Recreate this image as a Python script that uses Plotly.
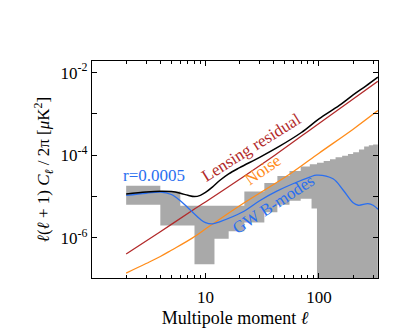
import numpy as np
import plotly.graph_objects as go

# multipole grid points where curves were read (values are log10 of l(l+1)C_l/2pi)
black_ell = [2, 3, 4, 5, 6, 7, 8, 9, 10, 11.5, 13.5, 16, 20, 30, 45, 70, 100, 150, 200, 260, 330]
black_log = [-4.94, -4.89, -4.87, -4.88, -4.92, -4.97, -5.0, -4.97, -4.9, -4.77, -4.6, -4.45,
             -4.3, -4.05, -3.78, -3.45, -3.12, -2.8, -2.54, -2.32, -2.11]

lens_ell = [2, 4, 7.7, 10, 20, 40.8, 100, 200, 330]
lens_log = [-6.39, -5.85, -5.33, -5.13, -4.58, -4.0, -3.23, -2.64, -2.21]

noise_ell = [2, 3, 4, 5, 7.7, 10.8, 20, 55, 100, 200, 330]
noise_log = [-6.85, -6.62, -6.45, -6.3, -6.0, -5.72, -5.22, -4.46, -3.95, -3.37, -2.92]

gw_ell = [2, 3, 4, 5, 6, 7, 8, 9, 10, 11.5, 13.3, 21, 30, 42.5, 59, 83, 95, 133, 163, 200,
          222, 270, 300, 332]
gw_log = [-4.97, -4.92, -4.89, -4.95, -5.1, -5.27, -5.42, -5.55, -5.63, -5.66, -5.61, -5.38,
          -5.1, -4.87, -4.69, -4.53, -4.48, -4.57, -4.84, -5.15, -5.21, -5.17, -5.21, -5.31]

# bandpower error boxes: bin edges, upper and lower bounds (log10)
bin_edges = [2, 4, 6, 8, 12, 16, 22, 33, 43, 55, 69, 83, 86, 96, 110, 125, 140, 160, 180,
             200, 225, 250, 275, 300, 330]
bin_hi = [-4.74, -4.88, -5.22, -5.22, -5.22, -5.22, -4.88, -4.67, -4.5, -4.38, -4.27, -4.22,
          -4.22, -4.18, -4.14, -4.1, -4.05, -4.01, -3.97, -3.93, -3.86, -3.79, -3.76, -3.74]
bin_lo = [-5.2, -5.7, -5.7, -6.64, -6.02, -5.84, -5.63, -5.38, -5.2, -5.1, -5.05, -5.05,
          -5.29, -8, -8, -8, -8, -8, -8, -8, -8, -8, -8, -8]

SERIF = "Times New Roman, Liberation Serif, DejaVu Serif, serif"


def to_val(logs):
    return np.power(10.0, np.array(logs))


# outline of the gray band: stepped upper edge, then stepped lower edge backwards
box_x, box_y = [], []
for i, hi in enumerate(bin_hi):
    box_x += [bin_edges[i], bin_edges[i + 1]]
    box_y += [hi, hi]
for i in reversed(range(len(bin_lo))):
    box_x += [bin_edges[i + 1], bin_edges[i]]
    box_y += [bin_lo[i], bin_lo[i]]

fig = go.Figure()
fig.add_trace(go.Scatter(x=box_x, y=to_val(box_y), mode="lines", fill="toself",
                         fillcolor="#a9a9a9", line=dict(width=0), hoverinfo="skip"))
fig.add_trace(go.Scatter(x=lens_ell, y=to_val(lens_log), mode="lines",
                         line=dict(color="#b22a2a", width=1.3, shape="spline")))
fig.add_trace(go.Scatter(x=noise_ell, y=to_val(noise_log), mode="lines",
                         line=dict(color="#ff8c1a", width=1.3, shape="spline")))
fig.add_trace(go.Scatter(x=gw_ell, y=to_val(gw_log), mode="lines",
                         line=dict(color="#2a6ff0", width=1.3, shape="spline")))
fig.add_trace(go.Scatter(x=black_ell, y=to_val(black_log), mode="lines",
                         line=dict(color="black", width=1.5, shape="spline")))

labels = [
    ("Lensing residual", 1.405, -3.82, -32, "#b22a2a"),
    ("Noise", 1.511, -4.35, -35, "#ff8c1a"),
    ("GW B-modes", 1.60, -5.20, -33, "#2a6ff0"),
    ("r=0.0005", 0.55, -4.485, 0, "#2a6ff0"),
]
for text, lx, ly, ang, col in labels:
    fig.add_annotation(x=lx, y=ly, xref="x", yref="y", text=text, showarrow=False,
                       textangle=ang, font=dict(family=SERIF, size=17, color=col))

axis_common = dict(showline=True, linecolor="black", linewidth=1.3, mirror="ticks",
                   ticks="inside", ticklen=5, tickcolor="black", showgrid=False,
                   zeroline=False)

fig.update_xaxes(type="log", range=[0, 2.52], tickvals=[10, 100], ticktext=["10", "100"],
                 minor=dict(ticks="inside", ticklen=3, tickcolor="black",
                            tickvals=[2, 3, 4, 5, 6, 7, 8, 9, 20, 30, 40, 50, 60, 70, 80, 90,
                                      200, 300]),
                 tickfont=dict(family=SERIF, size=17, color="black"), ticklabelstandoff=3,
                 title=dict(text="Multipole moment <i>ℓ</i>", standoff=5,
                            font=dict(family=SERIF, size=18, color="black")),
                 **axis_common)
fig.update_yaxes(type="log", range=[-6.97, -1.72],
                 tickvals=[1e-6, 1e-4, 1e-2],
                 ticktext=["10<sup>-6</sup>", "10<sup>-4</sup>", "10<sup>-2</sup>"],
                 minor=dict(ticks="inside", ticklen=5, tickcolor="black",
                            tickvals=[1e-7, 1e-5, 1e-3]),
                 tickfont=dict(family=SERIF, size=17, color="black"),
                 title=dict(text="<i>ℓ</i>(<i>ℓ</i> + 1) <i>C<sub>ℓ</sub></i> / 2π [<i>μ</i>K<sup>2</sup>]",
                            standoff=6, font=dict(family=SERIF, size=17, color="black")),
                 **axis_common)

# page body has an 8px margin, so the figure is shrunk to fit the 416x336 window
fig.update_layout(width=408, height=328, margin=dict(l=84, r=38, t=53, b=47),
                  paper_bgcolor="white", plot_bgcolor="white", showlegend=False)

fig.write_html("out.html")
